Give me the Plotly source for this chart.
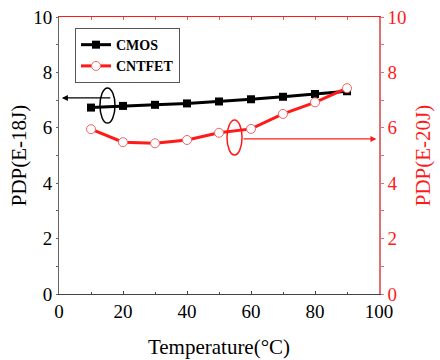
import plotly.graph_objects as go

temps = [10, 20, 30, 40, 50, 60, 70, 80, 90]
cmos_pdp = [6.73, 6.79, 6.83, 6.88, 6.95, 7.03, 7.12, 7.22, 7.32]
cntfet_pdp = [5.95, 5.48, 5.44, 5.56, 5.82, 5.96, 6.50, 6.92, 7.43]
y_ticks = [0, 2, 4, 6, 8, 10]
x_ticks = [0, 20, 40, 60, 80, 100]

FONT = "Liberation Serif, Times New Roman, serif"
RED = "#ff1a1a"

fig = go.Figure()
fig.add_trace(go.Scatter(
    x=temps, y=cmos_pdp, name="<b>CMOS</b>", mode="lines+markers",
    line=dict(color="black", width=3),
    marker=dict(symbol="square", size=8, color="black"),
    xaxis="x", yaxis="y"))
fig.add_trace(go.Scatter(
    x=temps, y=cntfet_pdp, name="<b>CNTFET</b>", mode="lines+markers",
    line=dict(color=RED, width=3),
    marker=dict(symbol="circle", size=9, color="white", line=dict(color="#ee6666", width=1)),
    xaxis="x2", yaxis="y2"))

fig.update_layout(
    width=440, height=360,
    margin=dict(l=59, r=61, t=17, b=66),
    plot_bgcolor="white", paper_bgcolor="white",
    font=dict(family=FONT, size=18, color="black"),
    showlegend=True,
    legend=dict(x=0.05, y=0.96, xanchor="left", yanchor="top",
                bordercolor="#555", borderwidth=1, bgcolor="white",
                font=dict(family=FONT, size=14, color="black"),
                tracegroupgap=0, itemwidth=30),
    xaxis=dict(range=[0, 100], tickvals=x_ticks, showgrid=False, zeroline=False,
               showline=True, linecolor="#444", linewidth=1, automargin=False,
               ticks="inside", ticklen=3, tickcolor="#444",
               minor=dict(dtick=10, ticks="inside", ticklen=2, tickcolor="#444"),
               tickfont=dict(family=FONT, size=19, color="black"),
               title=dict(text="Temperature(°C)", font=dict(family=FONT, size=21, color="black"), standoff=18)),
    xaxis2=dict(range=[0, 100], matches="x", overlaying="x", side="top",
                showticklabels=False, showgrid=False, zeroline=False, automargin=False,
                showline=True, linecolor=RED, linewidth=1,
                tickvals=x_ticks, ticks="inside", ticklen=3, tickcolor="#e06060",
                minor=dict(dtick=10, ticks="inside", ticklen=3, tickcolor="#e06060")),
    yaxis=dict(range=[0, 10], tickvals=y_ticks, showgrid=False, zeroline=False,
               showline=True, linecolor="#666", linewidth=1, automargin=False,
               ticks="outside", ticklen=2, tickcolor="#666",
               minor=dict(dtick=1, ticks="outside", ticklen=2, tickcolor="#666"),
               tickfont=dict(family=FONT, size=19, color="black"),
               title=dict(text="PDP(E-18J)", font=dict(family=FONT, size=21, color="black"), standoff=0)),
    yaxis2=dict(range=[0, 10], tickvals=y_ticks, overlaying="y", side="right",
                showgrid=False, zeroline=False, automargin=False,
                showline=True, linecolor="#e07070", linewidth=1.5,
                ticks="outside", ticklen=3, tickcolor="#e07070",
                minor=dict(dtick=1, ticks="outside", ticklen=3, tickcolor="#e07070"),
                tickfont=dict(family=FONT, size=19, color=RED),
                title=dict(text="PDP(E-20J)", font=dict(family=FONT, size=21, color=RED), standoff=10)),
)

# ellipses marking which axis each curve belongs to
fig.add_shape(type="circle", xref="x", yref="y", x0=12.8, x1=17.5, y0=6.17, y1=7.44,
              line=dict(color="black", width=1.5))
fig.add_shape(type="circle", xref="x", yref="y", x0=52.5, x1=57.2, y0=5.02, y1=6.28,
              line=dict(color=RED, width=1.5))

fig.add_annotation(x=0.9, y=7.08, ax=16.5, ay=7.08, xref="x", yref="y", axref="x", ayref="y",
                   text="", showarrow=True, arrowhead=2, arrowsize=1, arrowwidth=1.2, arrowcolor="black")
fig.add_annotation(x=99.2, y=5.6, ax=57.2, ay=5.6, xref="x", yref="y", axref="x", ayref="y",
                   text="", showarrow=True, arrowhead=2, arrowsize=1, arrowwidth=1.2, arrowcolor=RED)

fig.write_html("out.html")
